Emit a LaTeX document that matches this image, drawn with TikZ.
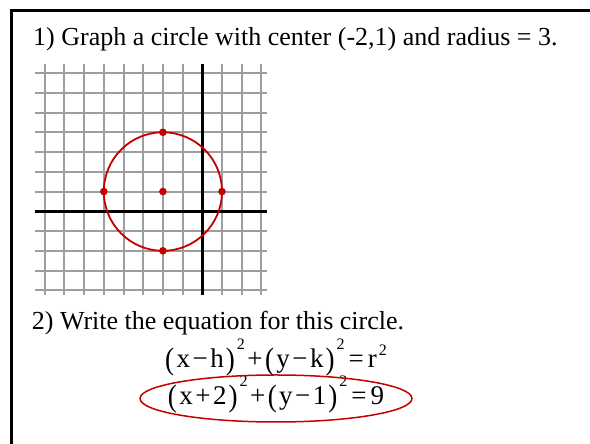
\documentclass[tikz,border=0pt]{standalone}
\usepackage{fontspec}
\usepackage{graphicx}
\setmainfont{Liberation Serif}
\newcommand\lpar{\raisebox{-1.2pt}{\scalebox{1}[1.15]{(}}\kern2.5pt}
\newcommand\rpar{\kern2pt\raisebox{-1.2pt}{\scalebox{1}[1.15]{)}}}
\newcommand\supt[1]{\kern2pt\raisebox{#1}{\fontsize{16}{16}\selectfont 2}}
\newcommand\mns{\kern2.5pt−\kern2.5pt}
\newcommand\pls{\kern2.5pt+\kern2.5pt}
\definecolor{circred}{RGB}{196,0,0}
\tikzset{
  gridline/.style={draw=black!38, line width=2pt},
  axisline/.style={draw=black, line width=3pt},
  circline/.style={draw=circred, line width=1.8pt},
  dotmark/.style={fill=circred, draw=none},
  qtext/.style={font=\fontsize{26}{30}\selectfont, inner sep=0pt, anchor=base west},
  eqtext/.style={font=\fontsize{27}{30}\selectfont, inner sep=0pt, anchor=base},
}
\begin{document}
\begin{tikzpicture}
\useasboundingbox (0,0) rectangle (590pt,444pt);
\clip (0,0) rectangle (590pt,444pt);
\fill[white] (0,0) rectangle (590pt,444pt);
% frame
\draw[line width=3pt] (11.5pt,-20pt) -- (11.5pt,433pt) -- (620pt,433pt);
% question 1
\node[qtext] (q1) at (33pt,398pt) {1) Graph a circle with center (-2,1) and radius = 3.};
% graph
\begin{scope}[shift={(202.3pt,232.7pt)}, x=19.7pt, y=19.75pt]
  \foreach \i in {-8,...,3} \draw[gridline] (\i,-4.22) -- (\i,7.48);
  \foreach \j in {-4,...,7} \draw[gridline] (-8.5,\j) -- (3.28,\j);
  \draw[axisline] (-8.5,0) -- (3.28,0);
  \draw[axisline] (0,-4.22) -- (0,7.48);
  \coordinate (c) at (-2,1);
  \coordinate (pl) at (-5,1);
  \coordinate (pr) at (1,1);
  \coordinate (pt) at (-2,4);
  \coordinate (pb) at (-2,-2);
  \draw[circline] (c) circle[radius=3];
  \foreach \p in {c,pl,pr,pt,pb} \fill[dotmark] (\p) circle[radius=3.8pt];
\end{scope}
% question 2
\node[qtext] (q2) at (31.7pt,114pt) {2) Write the equation for this circle.};
\node[eqtext] (eq1) at (276pt,76pt) {\lpar x\mns h\rpar\supt{18pt}\pls\lpar y\mns k\rpar\supt{18pt}\kern4pt=\kern4pt r\supt{12pt}};
\node[eqtext] (eq2) at (276pt,39pt) {\lpar x\pls 2\rpar\supt{18pt}\pls\lpar y\mns 1\rpar\supt{18pt}\kern4pt=\kern4pt 9};
\draw[circline, line width=1.5pt] (276pt,45.5pt) ellipse[x radius=136pt, y radius=23.5pt];
\end{tikzpicture}
\end{document}
